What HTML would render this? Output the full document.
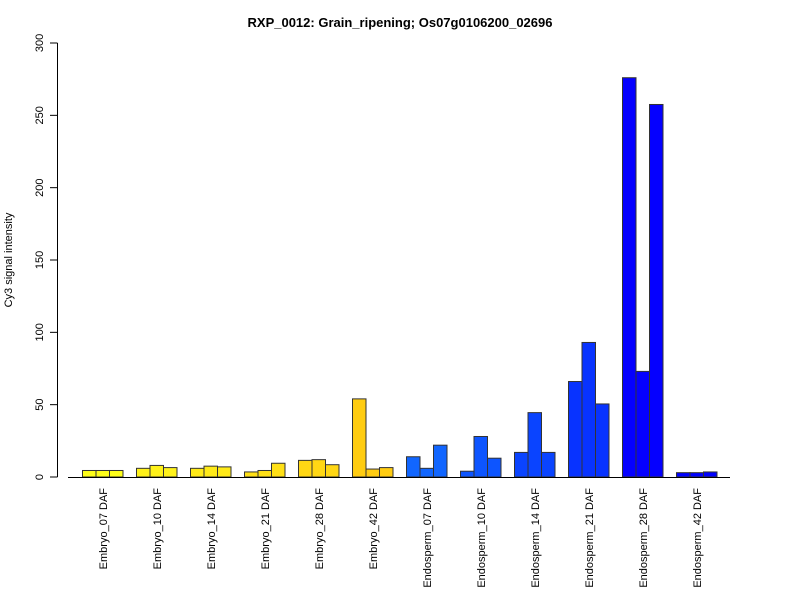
<!DOCTYPE html>
<html><head><meta charset="utf-8"><style>
body{margin:0;background:#fff}
svg{font-family:"Liberation Sans",Arial,sans-serif}
</style></head><body>
<svg id="chart" width="800" height="600" viewBox="0 0 800 600">
<text x="400" y="27" text-anchor="middle" font-size="13" font-weight="bold">RXP_0012: Grain_ripening; Os07g0106200_02696</text>
<text transform="translate(12,260) rotate(-90)" text-anchor="middle" font-size="11">Cy3 signal intensity</text>
<g id="yaxis"></g>
<g id="bars"></g>
<g id="xlabels"></g>
<line x1="68" x2="730" y1="477.5" y2="477.5" stroke="#000"/>
</svg>
<script>
const categories=["Embryo_07 DAF","Embryo_10 DAF","Embryo_14 DAF","Embryo_21 DAF","Embryo_28 DAF","Embryo_42 DAF","Endosperm_07 DAF","Endosperm_10 DAF","Endosperm_14 DAF","Endosperm_21 DAF","Endosperm_28 DAF","Endosperm_42 DAF"];
const rep1=[4.5,6,6,3.5,11.5,54,14,4,17,66,276,3];
const rep2=[4.5,8,7.5,4.5,12,5.5,6,28,44.5,93,73,3];
const rep3=[4.5,6.5,7,9.5,8.5,6.5,22,13,17,50.5,257.5,3.5];
const yTicks=[0,50,100,150,200,250,300];
const colors=["#ffff1a","#fff21a","#ffea18","#ffe016","#ffd714","#ffcc11","#1166ff","#0d55ff","#0a44ff","#0833ff","#0500ff","#0000ff"];
const NS="http://www.w3.org/2000/svg";
const y=v=>477-v*434/300;
const gx=g=>82.5+g*54;
const bw=13.5;
const ya=document.getElementById('yaxis');
function mk(t,a,p){const e=document.createElementNS(NS,t);for(const k in a)e.setAttribute(k,a[k]);p.appendChild(e);return e;}
mk('line',{x1:57.5,x2:57.5,y1:y(0),y2:y(300),stroke:'#000'},ya);
yTicks.forEach(t=>{
 const l=mk('line',{x1:50,x2:57.5,y1:y(t),y2:y(t),stroke:'#000'},ya);
 
 
 const tx=mk('text',{transform:`translate(43,${y(t)}) rotate(-90)`,'text-anchor':'middle','font-size':'11'},ya);
 tx.textContent=t;
 
 
});
const bg=document.getElementById('bars');
const xl=document.getElementById('xlabels');
categories.forEach((c,g)=>{
 [rep1[g],rep2[g],rep3[g]].forEach((v,i)=>{
  const r=mk('rect',{x:gx(g)+i*bw,y:y(v),width:bw,height:y(0)-y(v),fill:colors[g],stroke:'#333','stroke-width':1},bg);
  
  
 });
 const tx=mk('text',{transform:`translate(${gx(g)+bw*1.5+4},488) rotate(-90)`,'text-anchor':'end','font-size':'11'},xl);
 tx.textContent=c;
 
 
});
</script>
</body></html>
